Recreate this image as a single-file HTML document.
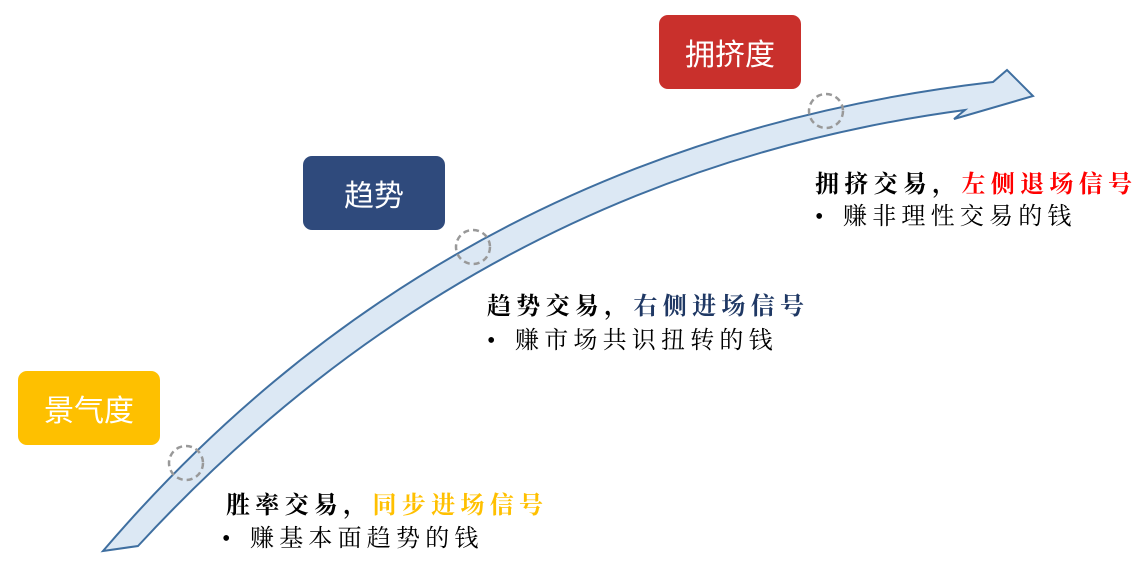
<!DOCTYPE html>
<html><head><meta charset="utf-8"><style>
body{margin:0;width:1146px;height:564px;background:#fff;position:relative;overflow:hidden;font-family:"Liberation Serif","Noto Serif CJK SC",serif}
.box{position:absolute;width:142px;height:74px;border-radius:9px;color:#fff;font:30px "Liberation Sans","Noto Sans CJK SC",sans-serif;display:flex;align-items:center;justify-content:center}
.t{position:absolute;font-size:24px;letter-spacing:5.3px;white-space:nowrap;font-weight:bold;line-height:30px}
.b{position:absolute;font-size:24px;letter-spacing:5.2px;white-space:nowrap;line-height:30px}
</style></head><body>
<svg width="1146" height="564" style="position:absolute;left:0;top:0">
<path d="M103,551 Q450,145 993,82 L1007,70 L1033,96 L954,119 L965,110 Q480,175 138,546 Z" fill="#dce8f4" stroke="#3f6fa0" stroke-width="2" stroke-linejoin="miter"/>
<g fill="none" stroke="#999" stroke-width="2.5" stroke-dasharray="6,4">
<circle cx="186" cy="463" r="17"/><circle cx="473" cy="247" r="17"/><circle cx="826" cy="111" r="17"/>
</g></svg>
<div class="box" style="left:659px;top:15px;background:#c9302c">拥挤度</div>
<div class="box" style="left:303px;top:156px;background:#2f4a7c">趋势</div>
<div class="box" style="left:18px;top:371px;background:#fec000">景气度</div>
<div class="t" style="left:815px;top:170px">拥挤交易，<span style="color:#ff0000">左侧退场信号</span></div>
<div class="b" style="left:815px;top:202px">•</div><div class="b" style="left:843px;top:202px">赚非理性交易的钱</div>
<div class="t" style="left:487px;top:292px">趋势交易，<span style="color:#1f3864">右侧进场信号</span></div>
<div class="b" style="left:487px;top:326px">•</div><div class="b" style="left:515px;top:326px">赚市场共识扭转的钱</div>
<div class="t" style="left:226px;top:491px">胜率交易，<span style="color:#ffc000">同步进场信号</span></div>
<div class="b" style="left:222px;top:524px">•</div><div class="b" style="left:250px;top:524px">赚基本面趋势的钱</div>
</body></html>
